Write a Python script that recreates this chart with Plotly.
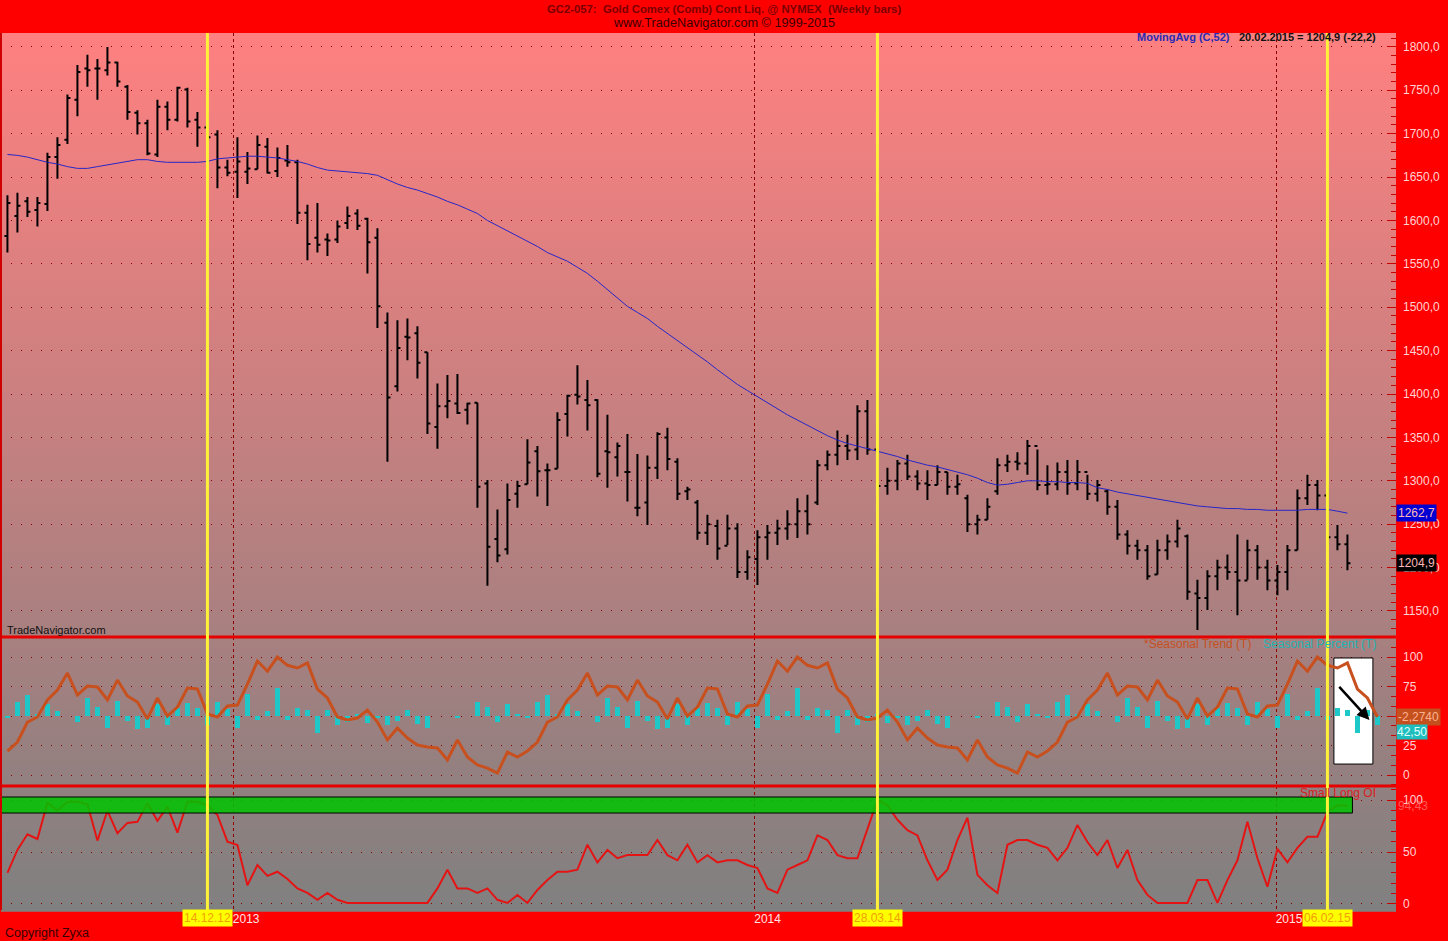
import plotly.graph_objects as go
from plotly.subplots import make_subplots
import pandas as pd

# ---------------- data ----------------
first_week = "2012-07-27"

bar_open = [1582,1605,1622,1612,1619,1673,1693,1739,1775,1775,1773,1782,1754,1724,1712,1676,1731,1716,1751,1716,1707,1699,1661,1656,1656,
            1659,1685,1657,1669,1667,1609,1580,1578,1578,1597,1608,1602,1580,1482,1409,1466,1470,1448,1362,1386,1389,1382,1390,1297,1233,1221,1285,1296,1334,1312,1314,1377,1399,1393,1393,1334,1327,1310,1269,1275,1315,
            1350,1322,1288,1275,1240,1248,1225,1245,1195,1210,1235,1240,1245,1250,1265,1275,1318,1330,1340,1336,1380,1336,1294,1300,1320,1305,1297,1295,1310,1293,1280,1250,1255,1288,1318,1322,1320,1340,1295,1296,1310,1297,1310,1285,1288,1270,1238,1225,1220,1192,1220,1230,1236,1170,1165,1190,1200,1195,1185,1220,1200,1185,1195,1220,1280,1295,1283,1235,1227]
bar_high = [1629,1632,1627,1627,1678,1696,1745,1779,1791,1786,1800,1783,1756,1727,1716,1739,1737,1754,1753,1725,1725,1704,1670,1696,1679,
            1698,1695,1684,1687,1670,1618,1620,1585,1600,1616,1613,1603,1591,1494,1485,1487,1478,1448,1412,1422,1423,1390,1390,1301,1267,1297,1300,1348,1340,1320,1379,1399,1433,1416,1394,1376,1344,1354,1331,1329,1356,
            1361,1326,1293,1278,1261,1255,1261,1251,1220,1243,1249,1255,1266,1280,1284,1324,1335,1358,1353,1387,1393,1338,1315,1324,1330,1312,1312,1318,1310,1307,1284,1261,1280,1326,1330,1333,1347,1336,1318,1321,1324,1324,1307,1301,1290,1278,1243,1232,1226,1232,1238,1255,1238,1186,1197,1209,1215,1238,1232,1226,1209,1203,1226,1290,1307,1301,1295,1249,1238]
bar_low = [1563,1586,1604,1593,1611,1648,1688,1720,1754,1739,1767,1754,1716,1699,1675,1673,1704,1714,1707,1685,1691,1637,1651,1626,1642,
           1659,1654,1650,1662,1596,1554,1563,1559,1574,1590,1589,1539,1476,1322,1403,1439,1418,1354,1337,1372,1377,1365,1269,1179,1206,1215,1269,1296,1282,1271,1314,1351,1388,1358,1304,1292,1305,1276,1259,1249,1302,
           1312,1278,1278,1232,1226,1209,1226,1188,1186,1180,1209,1226,1232,1234,1238,1272,1312,1318,1324,1324,1330,1284,1284,1289,1301,1289,1278,1295,1284,1284,1241,1238,1255,1284,1310,1312,1307,1289,1284,1289,1284,1289,1278,1276,1261,1232,1215,1209,1186,1192,1209,1223,1163,1128,1151,1174,1186,1145,1186,1186,1174,1168,1174,1220,1272,1266,1226,1220,1197]
bar_close = [1620,1617,1610,1620,1673,1687,1741,1771,1773,1775,1782,1760,1725,1712,1677,1731,1716,1753,1714,1707,1696,1661,1655,1668,1660,
             1687,1655,1672,1667,1609,1573,1572,1577,1593,1605,1594,1575,1501,1396,1453,1465,1436,1366,1386,1392,1378,1389,1293,1224,1214,1278,1294,1321,1311,1312,1370,1398,1397,1387,1308,1333,1340,1310,1269,1315,1354,
             1325,1285,1290,1240,1250,1222,1245,1195,1212,1235,1240,1245,1250,1265,1250,1318,1330,1340,1335,1380,1336,1294,1300,1320,1305,1297,1295,1310,1293,1296,1250,1255,1270,1318,1322,1320,1340,1295,1296,1310,1297,1310,1285,1295,1270,1238,1225,1220,1190,1220,1230,1245,1172,1165,1190,1200,1195,1185,1220,1200,1185,1195,1220,1280,1295,1283,1235,1227,1204.9]

moving_avg_52 = [1676,1675,1673,1670,1667,1665,1662,1660,1660,1662,1664,1666,1668,1670,1670,1668,1667,1667,1667,1667,1668,1671,1672,1673,1674,
                 1674,1673,1672,1670,1668,1665,1661,1658,1657,1656,1655,1654,1652,1647,1642,1638,1635,1631,1627,1622,1618,1613,1608,1600,1594,1588,1582,1576,1570,1563,1558,1553,1546,1539,1530,1520,1510,1501,1494,1487,1478,
                 1470,1462,1454,1446,1437,1428,1419,1411,1404,1397,1390,1383,1376,1370,1364,1358,1352,1347,1343,1340,1337,1334,1331,1328,1324,1321,1318,1316,1313,1310,1307,1303,1298,1295,1296,1298,1300,1300,1299,1299,1298,1298,1297,1292,1290,1287,1285,1283,1281,1279,1277,1275,1273,1271,1270,1269,1268,1268,1267,1267,1266,1266,1266,1266,1267,1267,1267,1265,1262.7]

seasonal_trend_2012 = [20.3,28.0,44.9,49.2,63.6,72.0,86.4,67.8,75.4,74.6,63.6,80.5,67.0,61.9,47.5,65.3,50.0,57.6,73.7,72.9,51.7,49.2,58.5,59.3,77.0,96.6,88.0,100.0,93.0,90.7,95.0,72.9,65.3,49.2,46.6,48.3,55.0,44.9,29.7,39.8,31.4,25.4,23.7,22.9,12.7,29.7,15.3,8.5,5.9,1.7,19.5,15.3]
seasonal_trend_2013 = [20.3,28.0,44.9,49.2,63.6,72.0,86.4,67.8,75.4,74.6,63.6,80.5,67.0,61.9,47.5,65.3,50.0,57.6,73.7,72.9,51.7,49.2,58.5,59.3,77.0,96.6,88.0,100.0,93.0,90.7,95.0,72.9,65.3,49.2,46.6,48.3,55.0,44.9,29.7,39.8,31.4,25.4,23.7,22.9,12.7,29.7,15.3,8.5,5.9,1.7,19.5,15.3]
seasonal_trend_2014 = [20.3,28.0,44.9,49.2,63.6,72.0,86.4,67.8,75.4,74.6,63.6,80.5,67.0,61.9,47.5,65.3,50.0,57.6,73.7,72.9,51.7,49.2,58.5,59.3,77.0,96.6,88.0,100.0,93.0,90.7,95.0,72.9,65.3,49.2]

seasonal_pct_2012 = [49,62,68,52,60,54,50,44.7,65,57.5,39.8,62.9,45.6,39,39.8,60,42.4,56.8,61,57,42.4,62,55.6,39.8,68.6,47,54,73.6,47,56.8,55,35.6,55,42.5,45,52,44,48,42,46,55,43,40,50,50,49,50,62,58,45,60,52]
seasonal_pct_2013 = [49,62,68,52,60,54,50,44.7,65,57.5,39.8,62.9,45.6,39,39.8,60,42.4,56.8,61,57,42.4,62,55.6,39.8,68.6,47,54,73.6,47,56.8,55,35.6,55,42.5,45,52,44,48,42,46,55,43,40,50,50,49,50,62,58,45,60,52]
seasonal_pct_2014 = [49,62,68,52,60,54,50,44.7,65,57.5,39.8,62.9,45.6,39,39.8,60,42.4,56.8,61,57,42.4,62,55.6,39.8,68.6,47,54,73.6,47,56.8,55,35.6,55,42.5]

small_long_oi = [30,52,67,62.5,97.4,90,98.4,98.4,96,61,89.7,68,78,79,97,80,93.6,68.6,98.4,98.4,95,85.6,60,56.7,18,37.5,27,31,24,15,
                 10.6,4,10.6,4,1,1,1,1,1,1,1,1,1,15,33,15,15,10.6,15,4,1,8.7,1,13.5,23,31,31,33,57,40,52,44,47,47,47,61.5,47,42,57,40,
                 47,40,42,42,37.5,34.6,15,10.6,33,37.5,42,66,61.5,47,44,44,71,100,95,81,71,66,42,23,33,61.5,83,28,18,10.6,57,61.5,61.5,57,
                 54,42,54,76,59.6,47,61.5,34.6,52,23,8.7,1,1,1,1,23,23,1,23,42,79,44,16.6,53,40,54,64.6,64.6,88.5,95,94.43]

year_ticks = ["2013-01-01", "2014-01-01", "2015-01-01"]
year_labels = ["2013", "2014", "2015"]
marker_dates = ["2012-12-14", "2014-03-28", "2015-02-06"]
marker_labels = ["14.12.12", "28.03.14", "06.02.15"]
price_ticks = [1150,1200,1250,1300,1350,1400,1450,1500,1550,1600,1650,1700,1750,1800]

# ---------------- derived ----------------
seasonal_trend = seasonal_trend_2012 + seasonal_trend_2013 + seasonal_trend_2014
seasonal_pct = seasonal_pct_2012 + seasonal_pct_2013 + seasonal_pct_2014
dates_all = pd.date_range(first_week, periods=len(seasonal_trend), freq="7D")
dates = dates_all[:len(bar_close)]

x_range = ["2012-07-22 12:00", "2015-03-26"]
FONT = "Arial, Liberation Sans, sans-serif"
GRID = "#8E0000"
TICK = "#C80000"
LBL = "#FFD2D2"

fig = make_subplots(rows=3, cols=1, shared_xaxes=True, vertical_spacing=0)

fig.add_trace(go.Ohlc(x=dates, open=bar_open, high=bar_high, low=bar_low, close=bar_close,
                      increasing=dict(line=dict(color="black", width=2)),
                      decreasing=dict(line=dict(color="black", width=2)),
                      tickwidth=0.3, showlegend=False, hoverinfo="skip"), row=1, col=1)
fig.add_trace(go.Scatter(x=dates, y=moving_avg_52, mode="lines",
                         line=dict(color="#2626C8", width=1), showlegend=False), row=1, col=1)

fig.add_trace(go.Bar(x=dates_all, y=[v - 50 for v in seasonal_pct], base=50,
                     width=3.5 * 86400000, marker=dict(color="#1EC8C8", line=dict(width=0)),
                     showlegend=False), row=2, col=1)
fig.add_trace(go.Scatter(x=dates_all, y=seasonal_trend, mode="lines",
                         line=dict(color="#C8501E", width=3), showlegend=False), row=2, col=1)

fig.add_trace(go.Scatter(x=dates, y=small_long_oi, mode="lines",
                         line=dict(color="#E41414", width=2), showlegend=False), row=3, col=1)

shapes = []
# vertical gradient background
N = 110
top_c = (255, 128, 128)
bot_c = (128, 128, 128)
for k in range(N):
    f = (k + 0.5) / N
    c = tuple(round(top_c[j] + (bot_c[j] - top_c[j]) * f) for j in range(3))
    shapes.append(dict(type="rect", xref="paper", yref="paper", x0=0, x1=1,
                       y0=1 - (k + 1) / N - 0.002, y1=1 - k / N,
                       fillcolor="rgb(%d,%d,%d)" % c, line=dict(width=0), layer="below"))

# white box in seasonal panel
shapes.append(dict(type="rect", xref="x2", yref="y2", x0="2015-02-10 13:00", x1="2015-03-09 20:00",
                   y0=9.3, y1=99.2, fillcolor="white", line=dict(color="black", width=1), layer="between"))
# green box in bottom panel
shapes.append(dict(type="rect", xref="x3", yref="y3", x0=x_range[0], x1="2015-02-23 12:00",
                   y0=87.5, y1=102.9, fillcolor="rgba(0,196,0,0.86)", line=dict(color="black", width=1), layer="above"))
# panel separators
for yy in [0.3113, 0.1414]:
    shapes.append(dict(type="line", xref="paper", yref="paper", x0=0, x1=1, y0=yy, y1=yy,
                       line=dict(color="#E60000", width=3), layer="above"))
shapes.append(dict(type="line", xref="paper", yref="paper", x0=0, x1=0, y0=0, y1=1,
                   line=dict(color="#D00000", width=2), layer="above"))
# yellow marker lines
for d in marker_dates:
    shapes.append(dict(type="line", xref="x", yref="paper", x0=d, x1=d, y0=0, y1=1,
                       line=dict(color="#FFF03A", width=3), layer="above"))

fig.update_layout(shapes=shapes)

ann = []
def A(**kw):
    base = dict(showarrow=False, font=dict(family=FONT, size=12))
    base.update(kw)
    ann.append(base)

A(text="<b>GC2-057:\u00a0 Gold Comex (Comb) Cont Liq. @ NYMEX \u00a0(Weekly bars)</b>", xref="paper", yref="paper",
  x=0.5183, y=1.0274, xanchor="center", yanchor="middle", font=dict(family=FONT, size=11.3, color="#7A0000"))
A(text="www.TradeNavigator.com © 1999-2015", xref="paper", yref="paper",
  x=0.5183, y=1.0114, xanchor="center", yanchor="middle", font=dict(family=FONT, size=12.7, color="#3A0000"))
A(text="<b>MovingAvg (C,52)</b>", xref="paper", yref="paper", x=0.8824, y=0.9954,
  xanchor="right", yanchor="middle", font=dict(family=FONT, size=11, color="#2A2AB4"))
A(text="<b>20.02.2015 = 1204,9 (-22,2)</b>", xref="paper", yref="paper", x=0.9871, y=0.9954,
  xanchor="right", yanchor="middle", font=dict(family=FONT, size=11, color="#101010"))
A(text="TradeNavigator.com", xref="paper", yref="paper", x=0.0029, y=0.3193,
  xanchor="left", yanchor="middle", font=dict(family=FONT, size=11, color="#101010"))
A(text="*Seasonal Trend (T)", xref="paper", yref="paper", x=0.8975, y=0.3033,
  xanchor="right", yanchor="middle", font=dict(family=FONT, size=12, color="#C8501E"))
A(text="Seasonal Percent (T)", xref="paper", yref="paper", x=0.9871, y=0.3033,
  xanchor="right", yanchor="middle", font=dict(family=FONT, size=12, color="#1EB4B4"))
A(text="Small Long OI", xref="paper", yref="paper", x=0.9871, y=0.1334,
  xanchor="right", yanchor="middle", font=dict(family=FONT, size=12, color="#D82020"))
A(text="Copyright Zyxa", xref="paper", yref="paper", x=0.0015, y=-0.0262,
  xanchor="left", yanchor="middle", font=dict(family=FONT, size=12.5, color="#3A0000"))

# value tags on right axis
A(text="1262,7", xref="paper", yref="y", x=1.0, y=moving_avg_52[-1], xanchor="left", yanchor="middle",
  bgcolor="#0000D2", borderpad=1, font=dict(family=FONT, size=12, color="#FFB8B8"))
A(text="1204,9", xref="paper", yref="y", x=1.0, y=bar_close[-1], xanchor="left", yanchor="middle",
  bgcolor="#000000", borderpad=1, font=dict(family=FONT, size=12, color="#FFB8B8"))
A(text="-2,2740", xref="paper", yref="y2", x=1.0, y=seasonal_trend[-1], xanchor="left", yanchor="middle",
  bgcolor="#C4501E", borderpad=1, font=dict(family=FONT, size=12, color="#FFB090"))
A(text="42,50", xref="paper", yref="y2", x=1.0, y=seasonal_pct[-1] - 6, xanchor="left", yanchor="middle",
  bgcolor="#1EBEBE", borderpad=0, font=dict(family=FONT, size=12, color="#E0FFFF"))
A(text="94,43", xref="paper", yref="y3", x=1.0, y=small_long_oi[-1], xanchor="left", yanchor="middle",
  font=dict(family=FONT, size=12, color="#FF5A5A"))

# yellow date tags
for d, t in zip(marker_dates, marker_labels):
    A(text=t, xref="x3", yref="paper", x=d, y=0, xanchor="center", yanchor="top", yshift=1,
      bgcolor="#FFFF00", borderpad=1, font=dict(family=FONT, size=12, color="#F0A000"))

# arrow in white box
ann.append(dict(x="2015-03-07 10:00", y=46.6, ax="2015-02-13 08:00", ay=76, xref="x2", yref="y2",
                axref="x2", ayref="y2", text="", showarrow=True, arrowhead=2, arrowsize=1,
                arrowwidth=2.5, arrowcolor="black"))

fig.update_layout(annotations=ann)

fig.update_layout(width=1448, height=941, margin=dict(l=1, r=52, t=33, b=31),
                  paper_bgcolor="#FF0000", plot_bgcolor="rgba(0,0,0,0)",
                  separators=", ", showlegend=False, bargap=0,
                  font=dict(family=FONT, size=12))

for ax in ["xaxis", "xaxis2", "xaxis3"]:
    fig.layout[ax].update(type="date", range=x_range, tickmode="array", tickvals=year_ticks,
                          ticktext=year_labels, showgrid=True, gridcolor=GRID, griddash="3px,3px",
                          gridwidth=1, zeroline=False, showline=False, ticks="",
                          rangeslider=dict(visible=False))
fig.layout.xaxis.showticklabels = False
fig.layout.xaxis2.showticklabels = False
fig.layout.xaxis3.update(showticklabels=True, tickfont=dict(family=FONT, size=12, color="#FFE4E4"),
                         ticklabelshift=13, ticklabelstandoff=0)

ycommon = dict(side="right", ticks="inside", tickcolor=TICK, tickwidth=1, ticklen=9,
               showgrid=True, gridcolor=GRID, griddash="1px,9px", gridwidth=1,
               zeroline=False, showline=False, tickfont=dict(family=FONT, size=12, color=LBL),
               ticklabelstandoff=6, fixedrange=True)
fig.layout.yaxis.update(domain=[0.3113, 1.0], range=[1120, 1816], tickmode="array",
                        tickvals=price_ticks, tickformat=".1f",
                        minor=dict(ticks="inside", ticklen=5, tickcolor=TICK, tickmode="linear",
                                   tick0=1150, dtick=10, showgrid=False), **ycommon)
fig.layout.yaxis2.update(domain=[0.1414, 0.3113], range=[-9.3, 117], tickmode="array",
                         tickvals=[0, 25, 50, 75, 100],
                         minor=dict(ticks="inside", ticklen=5, tickcolor=TICK, tickmode="linear",
                                    tick0=0, dtick=25 / 3, showgrid=False), **ycommon)
fig.layout.yaxis3.update(domain=[0.0, 0.1414], range=[-5.8, 113.5], tickmode="array",
                         tickvals=[0, 50, 100],
                         minor=dict(ticks="inside", ticklen=5, tickcolor=TICK, tickmode="linear",
                                    tick0=0, dtick=10, showgrid=False), **ycommon)

fig.write_html("out.html", config={"displayModeBar": False},
               post_script="document.body.style.margin='0px';document.body.style.padding='0px';")
